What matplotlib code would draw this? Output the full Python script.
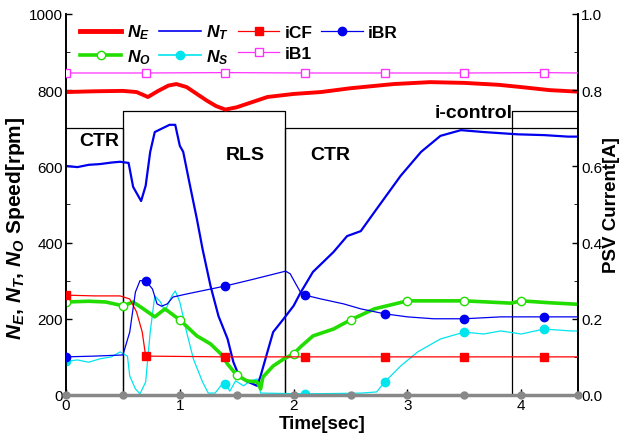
import numpy as np
import matplotlib.pyplot as plt
from matplotlib.lines import Line2D

plt.rcParams['font.family'] = ['Liberation Sans', 'DejaVu Sans']
plt.rcParams['mathtext.fontset'] = 'custom'
plt.rcParams['mathtext.rm'] = 'Liberation Sans'
plt.rcParams['mathtext.it'] = 'Liberation Sans:italic'
plt.rcParams['mathtext.bf'] = 'Liberation Sans:bold'
plt.rcParams['mathtext.bfit'] = 'Liberation Sans:bold:italic'

# engine speed N_E [rpm]
t_ne = [0, 0.25, 0.5, 0.62, 0.72, 0.81, 0.9, 0.97, 1.06, 1.15, 1.24, 1.32, 1.4, 1.5, 1.59,
        1.77, 2.0, 2.24, 2.5, 2.88, 3.2, 3.5, 3.8, 4.0, 4.25, 4.5]
ne = [795, 797, 798, 795, 782, 798, 812, 816, 808, 790, 772, 758, 749, 755, 764,
      782, 790, 795, 805, 816, 821, 819, 814, 808, 800, 796]

# turbine speed N_T [rpm]
t_nt = [0, 0.1, 0.2, 0.3, 0.4, 0.475, 0.55, 0.59, 0.66, 0.7, 0.74, 0.78, 0.855, 0.91, 0.96,
        1.0, 1.03, 1.09, 1.15, 1.2, 1.27, 1.34, 1.42, 1.47, 1.52, 1.58, 1.68, 1.71, 1.77,
        1.82, 1.91, 2.0, 2.06, 2.17, 2.35, 2.47, 2.59, 2.71, 2.94, 3.12, 3.29, 3.47, 3.67,
        3.97, 4.2, 4.41, 4.5]
nt = [601, 598, 604, 606, 610, 612, 609, 546, 509, 549, 638, 690, 701, 709, 709,
      654, 638, 549, 462, 383, 286, 207, 147, 87, 50, 37, 24, 50, 113,
      165, 199, 234, 268, 323, 375, 417, 430, 480, 575, 638, 680, 695, 690,
      684, 682, 678, 678]

# output speed N_O [rpm]
t_no = [0, 0.2, 0.35, 0.5, 0.59, 0.68, 0.78, 0.87, 1.0, 1.15, 1.27, 1.36, 1.42, 1.5, 1.59,
        1.68, 1.71, 1.73, 1.82, 1.91, 2.0, 2.06, 2.17, 2.35, 2.5, 2.71, 3.0, 3.23, 3.5,
        3.91, 4.0, 4.25, 4.5]
no = [244, 246, 244, 234, 244, 226, 205, 226, 197, 155, 134, 108, 81, 52, 37,
      34, 16, 47, 76, 94, 108, 126, 155, 173, 197, 226, 247, 247, 247,
      241, 247, 242, 238]

# N_S [rpm]
t_ns = [0, 0.1, 0.2, 0.3, 0.4, 0.475, 0.54, 0.56, 0.61, 0.65, 0.7, 0.74, 0.78, 0.83, 0.87,
        0.93, 0.96, 1.0, 1.06, 1.12, 1.2, 1.25, 1.31, 1.36, 1.4, 1.44, 1.49, 1.56, 1.62,
        1.68, 1.71, 1.9, 2.1, 2.4, 2.6, 2.73, 2.8, 2.94, 3.09, 3.29, 3.5, 3.67, 3.82,
        4.0, 4.2, 4.44, 4.5]
ns = [88, 92, 86, 95, 100, 113, 102, 50, 16, 3, 34, 165, 260, 244, 220,
      260, 273, 244, 165, 94, 34, 5, 5, 24, 29, 10, 37, 24, 37,
      42, 5, 4, 3, 4, 5, 8, 34, 76, 113, 147, 165, 160, 168,
      160, 173, 168, 168]

# PSV currents [A]
t_icf = [0, 0.25, 0.475, 0.56, 0.62, 0.67, 0.7, 1.4, 2.1, 2.8, 3.5, 4.2, 4.5]
icf = [0.262, 0.260, 0.260, 0.252, 0.218, 0.165, 0.102, 0.100, 0.100, 0.100, 0.100, 0.100, 0.100]

t_ibr = [0, 0.25, 0.5, 0.56, 0.61, 0.65, 0.7, 0.76, 0.8, 0.84, 0.89, 0.94, 1.06, 1.4,
         1.65, 1.93, 1.97, 2.02, 2.06, 2.1, 2.24, 2.44, 2.59, 2.8, 3.0, 3.23, 3.5,
         3.82, 4.2, 4.5]
ibr = [0.100, 0.102, 0.105, 0.165, 0.270, 0.300, 0.300, 0.278, 0.239, 0.233, 0.239, 0.257,
       0.265, 0.286, 0.304, 0.325, 0.318, 0.291, 0.270, 0.262, 0.252, 0.239, 0.226,
       0.213, 0.205, 0.200, 0.200, 0.205, 0.205, 0.205]

t_ib1 = [0, 0.7, 1.4, 2.1, 2.8, 3.5, 4.2, 4.5]
ib1 = [0.845, 0.845, 0.846, 0.845, 0.845, 0.845, 0.846, 0.845]

t_ib2 = [0, 0.5, 1.0, 1.5, 2.0, 2.5, 3.0, 3.5, 4.0, 4.5]
ib2 = [0, 0, 0, 0, 0, 0, 0, 0, 0, 0]

# control mode levels (drawn as step outlines)
t_ctr = [0, 0.5, 0.5, 1.92, 1.92, 4.5]
ctr = [700, 700, 0, 0, 700, 700]
t_rls = [0.5, 0.5, 1.92, 1.92]
rls = [0, 745, 745, 0]
t_ictl = [3.92, 3.92, 4.5]
ictl = [0, 745, 745]

marks_07 = [0, 0.7, 1.4, 2.1, 2.8, 3.5, 4.2]
marks_05 = [0, 0.5, 1.0, 1.5, 2.0, 2.5, 3.0, 3.5, 4.0, 4.5]


def every(t, marks):
    return [i for i, v in enumerate(t) if any(abs(v - m) < 1e-6 for m in marks)]


fig = plt.figure(figsize=(6.19, 4.39), dpi=100)
ax = fig.add_axes([0.1066, 0.098, 0.8274, 0.868])
ax2 = ax.twinx()

ax.plot(t_ctr, ctr, color='black', lw=0.9, zorder=1)
ax.plot(t_rls, rls, color='black', lw=0.9, zorder=1)
ax.plot(t_ictl, ictl, color='black', lw=0.9, zorder=1)

ax.plot(t_ne, ne, color='#ff0000', lw=2.8, zorder=5)
ax.plot(t_nt, nt, color='#0000ee', lw=1.6, zorder=5)
ax.plot(t_no, no, color='#22dd00', lw=2.6, marker='o', ms=6, mfc='white', mec='#22dd00',
        markevery=every(t_no, marks_05[:-1]), zorder=5)
ax.plot(t_ns, ns, color='#00e5ee', lw=0.9, marker='o', ms=6, mfc='#00e5ee', mec='#00e5ee',
        markevery=every(t_ns, [0, 1.4, 2.1, 2.8, 3.5, 4.2]), zorder=4)

ax2.plot(t_icf, icf, color='#ff0000', lw=0.9, marker='s', ms=6, markevery=every(t_icf, marks_07), zorder=5)
ax2.plot(t_ibr, ibr, color='#0000ee', lw=0.9, marker='o', ms=6, markevery=every(t_ibr, marks_07), zorder=5)
ax2.plot(t_ib1, ib1, color='#ff33ff', lw=0.9, marker='s', ms=5.5, mfc='white', mec='#ff33ff',
         markevery=every(t_ib1, marks_07), zorder=5)
ax2.plot(t_ib2, ib2, color='#888888', lw=2.5, marker='o', ms=5, markevery=every(t_ib2, marks_05),
         clip_on=False, zorder=6)

ax.set_xlim(0, 4.5)
ax.set_ylim(0, 1000)
ax2.set_ylim(0, 1.0)
ax.set_xticks([0, 1, 2, 3, 4])
ax.set_yticks([0, 200, 400, 600, 800, 1000])
ax.set_yticks(np.arange(100, 1000, 200), minor=True)
ax2.set_yticks([0.0, 0.2, 0.4, 0.6, 0.8, 1.0])
ax2.set_yticklabels(['0.0', '0.2', '0.4', '0.6', '0.8', '1.0'])
ax2.set_yticks(np.arange(0.1, 1.0, 0.2), minor=True)

for a in (ax, ax2):
    a.spines['top'].set_visible(False)
    a.tick_params(direction='in', labelsize=11, length=4, width=1, pad=2)
    a.tick_params(which='minor', direction='in', length=3)
    for s in a.spines.values():
        s.set_linewidth(1.2)

ax.set_xlabel('Time[sec]', fontsize=13.5, fontweight='bold', labelpad=2)
ax.set_ylabel(r'$\mathbfit{N}_{\mathbfit{E}}$, $\mathbfit{N}_{\mathbfit{T}}$, '
              r'$\mathbfit{N}_{\mathbfit{O}}$ Speed[rpm]', fontsize=15, fontweight='bold')
ax.yaxis.set_label_coords(-0.076, 0.44)
ax2.set_ylabel('PSV Current[A]', fontsize=13.5, fontweight='bold', labelpad=1)

ax.text(0.12, 655, 'CTR', fontsize=14, fontweight='bold')
ax.text(1.40, 620, 'RLS', fontsize=14, fontweight='bold')
ax.text(2.15, 620, 'CTR', fontsize=14, fontweight='bold')
ax.text(3.24, 730, 'i-control', fontsize=14, fontweight='bold')

handles = [
    Line2D([], [], color='#ff0000', lw=3.5),
    Line2D([], [], color='#22dd00', lw=2.6, marker='o', ms=6, mfc='white', mec='#22dd00'),
    Line2D([], [], color='#0000ee', lw=1.2),
    Line2D([], [], color='#00e5ee', lw=1.2, marker='o', ms=6),
    Line2D([], [], color='#ff0000', lw=0.9, marker='s', ms=6),
    Line2D([], [], color='#ff33ff', lw=0.9, marker='s', ms=5.5, mfc='white', mec='#ff33ff'),
    Line2D([], [], color='#0000ee', lw=0.9, marker='o', ms=6),
]
labels = [r'$\mathbfit{N}_{\mathbfit{E}}$', r'$\mathbfit{N}_{\mathbfit{O}}$',
          r'$\mathbfit{N}_{\mathbfit{T}}$', r'$\mathbfit{N}_{\mathbfit{S}}$',
          'iCF', 'iB1', 'iBR']
leg = ax2.legend(handles, labels, loc='upper left', bbox_to_anchor=(0.01, 1.0), ncol=4, frameon=False,
                 prop={'size': 12.5, 'weight': 'bold'}, handlelength=2.4, columnspacing=0.5,
                 handletextpad=0.3, labelspacing=0.35, borderaxespad=0.1)

fig.savefig('out.png', dpi=100)
